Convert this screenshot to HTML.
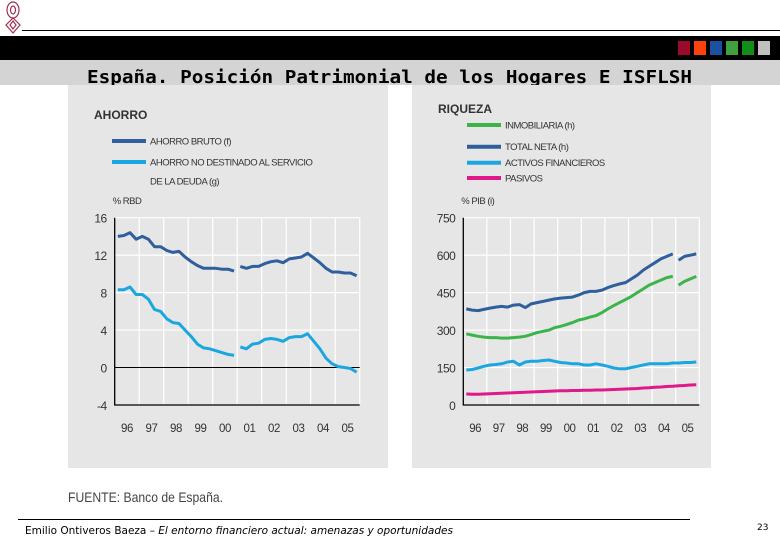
<!DOCTYPE html>
<html><head><meta charset="utf-8"><style>
html,body{margin:0;padding:0;background:#fff;}
svg{display:block;}
.c{font-family:"Liberation Sans Narrow","Liberation Sans",sans-serif;fill:#333;}
</style></head><body>
<svg id="s" width="780" height="540" xmlns="http://www.w3.org/2000/svg">
<g fill="none" stroke="#a03050" stroke-width="1.2">
<ellipse cx="13" cy="10" rx="6" ry="8"/><ellipse cx="13" cy="10" rx="2.5" ry="4"/>
<path d="M13 18 L20 25 L13 33 L6 25 Z"/><path d="M13 21 L16 25 L13 29 L10 25 Z"/>
</g>
<line x1="22" y1="30.5" x2="780" y2="30.5" stroke="#000" stroke-width="1"/>
<rect x="0" y="36" width="780" height="24" fill="#000"/>
<rect x="678" y="41" width="12" height="14" fill="#9b0a2a"/>
<rect x="694" y="41" width="12" height="14" fill="#ff4010"/>
<rect x="710" y="41" width="12" height="14" fill="#1f4fa0"/>
<rect x="726" y="41" width="12" height="14" fill="#40a040"/>
<rect x="742" y="41" width="12" height="14" fill="#10901a"/>
<rect x="758" y="41" width="12" height="14" fill="#c0c0c0"/>
<rect x="0" y="60" width="780" height="25" fill="#d4d4d4"/>
<text x="87" y="83" font-family="'DejaVu Sans Mono','Liberation Mono',monospace" font-weight="bold" font-size="18" textLength="605" lengthAdjust="spacingAndGlyphs" fill="#000">España. Posición Patrimonial de los Hogares E ISFLSH</text>
<rect x="68" y="85" width="320" height="383" fill="#e6e6e6"/>
<rect x="412" y="85" width="299" height="383" fill="#e6e6e6"/>
<g id="L"></g><g id="R"></g>
<text x="68" y="502" class="c" font-size="14" textLength="155" lengthAdjust="spacingAndGlyphs" style="fill:#444">FUENTE: Banco de España.</text>
<line x1="18" y1="519.5" x2="690" y2="519.5" stroke="#000" stroke-width="1"/>
<text x="25" y="534" font-family="'DejaVu Sans',sans-serif" font-size="10.5" fill="#000">Emilio Ontiveros Baeza – <tspan font-style="italic">El entorno financiero actual: amenazas y oportunidades</tspan></text>
<text x="757" y="530" font-family="'DejaVu Sans',sans-serif" font-size="9" fill="#000">23</text>
</svg>
<script>
const years=["96","97","98","99","00","01","02","03","04","05"];
const ahorroTicks=[16,12,8,4,0,-4];
const ahorroBruto=[14,14.1,14.4,13.7,14,13.7,12.9,12.9,12.5,12.3,12.4,11.8,11.3,10.9,10.6,10.6,10.6,10.5,10.5,10.3,10.8,10.6,10.8,10.8,11.1,11.3,11.4,11.2,11.6,11.7,11.8,12.2,11.7,11.2,10.6,10.2,10.2,10.1,10.1,9.8];
const ahorroNoDest=[8.3,8.3,8.6,7.8,7.8,7.3,6.2,6.0,5.2,4.8,4.7,4.0,3.3,2.5,2.1,2.0,1.8,1.6,1.4,1.3,2.2,2.0,2.5,2.6,3.0,3.1,3.0,2.8,3.2,3.3,3.3,3.6,2.8,2.0,1.0,0.4,0.1,0.0,-0.1,-0.5];
const riquezaTicks=[750,600,450,300,150,0];
const inmobiliaria=[285,280,275,272,270,270,268,268,270,272,275,282,290,295,300,310,315,322,330,340,345,352,358,370,385,398,410,422,435,450,465,480,490,500,510,515,480,495,505,515];
const totalNeta=[385,380,378,383,388,392,395,392,400,402,390,405,410,415,420,425,428,430,432,440,450,455,455,460,470,478,485,490,505,520,540,555,570,585,595,605,580,595,600,605];
const activos=[140,142,148,155,160,162,165,172,175,160,172,175,175,178,180,175,170,168,165,165,160,160,165,160,155,148,145,145,150,155,160,165,165,165,165,168,168,170,170,172];
const pasivos=[44,43,43,44,45,46,47,48,49,50,51,52,53,54,55,56,57,57,58,58,59,59,60,60,61,62,63,64,65,66,68,69,71,72,74,75,77,78,80,81];
const NS="http://www.w3.org/2000/svg";
function mk(p,t,a,txt){const e=document.createElementNS(NS,t);for(const k in a)e.setAttribute(k,a[k]);if(txt!=null)e.textContent=txt;p.appendChild(e);return e;}
function chart(g,o){
 const x0=o.x0,x1=o.x1,yT=217.7,yB=405,n=years.length,w=(x1-x0)/n;
 const ys=v=>yT+(o.max-v)/(o.max-o.min)*(yB-yT);
 const xs=i=>x0+(i+0.5)*w/4;
 let t=mk(g,'text',{x:o.tx,y:o.ty,class:'c','font-size':12,'font-weight':'bold'},o.title);
 
 
 o.legend.forEach(l=>{
  let ln=mk(g,'line',{x1:o.lx,x2:o.lx+34,y1:l.y,y2:l.y,stroke:l.c,'stroke-width':4});
  
  
  l.t.forEach((s,k)=>{let tt=mk(g,'text',{x:o.lx+38,y:l.y+3.5+k*19,class:'c','font-size':9.5,'letter-spacing':'-0.5'},s);
  
  });
 });
 let u=mk(g,'text',{x:x0-2,y:204,class:'c','font-size':9.5,'letter-spacing':'-0.5'},o.unit);
 
 
 for(let i=1;i<n;i++){let gl=mk(g,'line',{x1:x0+i*w,x2:x0+i*w,y1:yT,y2:yB,stroke:'#fff','stroke-width':1.2});
  
  }
 mk(g,'line',{x1:x1,x2:x1,y1:yT,y2:yB,stroke:'#fff','stroke-width':1.2});
 o.ticks.forEach(v=>{const y=ys(v);
  if(v!==o.min&&v!==0){let hl=mk(g,'line',{x1:x0,x2:x1,y1:y,y2:y,stroke:'#fff','stroke-width':1.2});
   
   }
  let tl=mk(g,'text',{x:x0-8,y:y+5,class:'c','font-size':12,'text-anchor':'end','letter-spacing':'-0.5'},String(v));
  
  
 });
 if(o.min<0){let z=mk(g,'line',{x1:x0,x2:x1,y1:ys(0),y2:ys(0),stroke:'#000','stroke-width':1});
  
  }
 let ax=mk(g,'path',{d:`M${x0} ${yT}V${yB}H${x1}`,fill:'none',stroke:'#000','stroke-width':1.3});
 
 
 years.forEach((yr,i)=>{let xl=mk(g,'text',{x:x0+(i+0.5)*w,y:432,class:'c','font-size':11.5,'text-anchor':'middle','letter-spacing':'-0.5'},yr);
  
  });
 o.series.forEach(s=>{
  let d='';s.v.forEach((v,i)=>{d+=(i===0||(s.brk!=null&&i===s.brk)?'M':'L')+xs(i).toFixed(1)+' '+ys(v).toFixed(1);});
  let p=mk(g,'path',{d:d,fill:'none',stroke:s.c,'stroke-width':3,'stroke-linejoin':'round'});
  
  
 });
}
chart(document.getElementById('L'),{key:'ahorro',x0:114.7,x1:359.7,min:-4,max:16,ticks:ahorroTicks,title:'AHORRO',tx:94,ty:119,unit:'% RBD',lx:112,
 legend:[{y:141,c:'#2f5f9c',t:['AHORRO BRUTO (f)']},{y:162,c:'#1aa7e0',t:['AHORRO NO DESTINADO AL SERVICIO','DE LA DEUDA (g)']}],
 series:[{name:'ahorro-bruto-line',v:ahorroBruto,c:'#2f5f9c',brk:20},{name:'ahorro-no-destinado-line',v:ahorroNoDest,c:'#1aa7e0',brk:20}]});
chart(document.getElementById('R'),{key:'riqueza',x0:463.3,x1:699.3,min:0,max:750,ticks:riquezaTicks,title:'RIQUEZA',tx:438,ty:113,unit:'% PIB (i)',lx:467,
 legend:[{y:125,c:'#3cb44a',t:['INMOBILIARIA (h)']},{y:146.7,c:'#2f5f9c',t:['TOTAL NETA (h)']},{y:162.7,c:'#1aa7e0',t:['ACTIVOS FINANCIEROS']},{y:178,c:'#e0188a',t:['PASIVOS']}],
 series:[{name:'pasivos-line',v:pasivos,c:'#e0188a'},{name:'activos-financieros-line',v:activos,c:'#1aa7e0'},{name:'inmobiliaria-line',v:inmobiliaria,c:'#3cb44a',brk:36},{name:'total-neta-line',v:totalNeta,c:'#2f5f9c',brk:36}]});
</script>
</body></html>
